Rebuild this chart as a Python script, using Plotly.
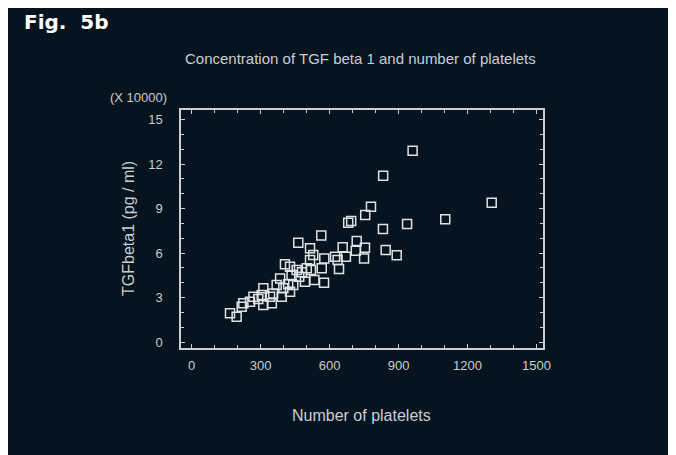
import plotly.graph_objects as go

# Platelet count vs TGF beta 1 concentration (x 10000 pg/ml)
platelets = [833, 780, 755, 694, 681, 937, 1103, 832, 564, 464,
             718, 844, 892, 754, 714, 750, 657, 671, 635, 641,
             576, 577, 515, 529, 515, 566, 501, 519, 534, 406,
             428, 457, 435, 468, 493, 385, 370, 399, 442, 355,
             312, 305, 392, 312, 269, 254, 225, 218, 167, 196,
             349, 961, 1305, 624, 341, 428, 480, 420, 290]
tgf_beta1 = [11.21, 9.12, 8.56, 8.16, 8.04, 7.96, 8.27, 7.62, 7.19, 6.70,
             6.81, 6.20, 5.85, 6.36, 6.16, 5.64, 6.39, 5.75, 5.53, 4.92,
             4.00, 5.64, 6.32, 5.87, 5.53, 4.97, 4.97, 4.86, 4.18, 5.24,
             5.08, 4.86, 4.52, 4.40, 4.07, 4.29, 3.84, 3.62, 3.84, 3.28,
             3.62, 3.17, 3.05, 2.49, 3.05, 2.72, 2.61, 2.38, 1.94, 1.71,
             2.61, 12.90, 9.39, 5.75, 3.05, 3.39, 4.70, 3.90, 2.90]

x_ticks = [0, 300, 600, 900, 1200, 1500]
y_ticks = [0, 3, 6, 9, 12, 15]

BG = '#05141f'
FG = '#c9ced3'
FONT = 'Liberation Sans, Arial, sans-serif'

# the page adds an 8px white margin, so the figure starts at (8, 8)
OFF = 8
W, H = 676, 455
L, R, T, B = 181 - OFF, 676 - 543 + OFF, 110 - OFF, 455 - 348 + OFF
PW, PH = W - L - R, H - T - B


def px_to_paper(px, py):
    # px, py measured on the screenshot
    return (px - OFF - L) / PW, (H - B - (py - OFF)) / PH


fig = go.Figure()

fig.add_trace(go.Scatter(
    x=platelets,
    y=tgf_beta1,
    mode='markers',
    marker=dict(symbol='square-open', size=9, color='#dfe2e4',
                line=dict(width=1.5, color='#dfe2e4')),
    showlegend=False
))

axis_common = dict(
    showline=True, linecolor=FG, linewidth=1.5, mirror='ticks',
    ticks='inside', ticklen=4, tickwidth=1, tickcolor=FG,
    showgrid=False, zeroline=False,
    tickfont=dict(family=FONT, size=13, color=FG),
)

fig.update_xaxes(
    range=[-46, 1528], tickvals=x_ticks, ticklabelstandoff=5,
    minor=dict(dtick=100, tick0=0, ticks='inside', ticklen=3, tickcolor=FG, showgrid=False),
    **axis_common
)
fig.update_yaxes(
    range=[-0.4, 15.64], tickvals=y_ticks, ticklabelstandoff=14,
    minor=dict(dtick=1, tick0=0, ticks='inside', ticklen=3, tickcolor=FG, showgrid=False),
    **axis_common
)

texts = [
    ('Fig.&nbsp; 5b', 22, 22, 'left', 0, dict(family='DejaVu Sans, Verdana, sans-serif', size=20, color='white'), True),
    ('Concentration of TGF beta 1 and number of platelets', 360, 58, 'center', 0,
     dict(family=FONT, size=15, color=FG), False),
    ('(X 10000)', 138, 97, 'center', 0, dict(family=FONT, size=13, color=FG), False),
    ('TGFbeta1 (pg / ml)', 128, 229, 'center', -90, dict(family=FONT, size=16, color=FG), False),
    ('Number of platelets', 361, 415, 'center', 0, dict(family=FONT, size=16, color=FG), False),
]
for txt, tx, ty, anchor, angle, font, bold in texts:
    ax, ay = px_to_paper(tx, ty)
    fig.add_annotation(
        text=f'<b>{txt}</b>' if bold else txt,
        x=ax, y=ay, xref='paper', yref='paper',
        xanchor=anchor, yanchor='middle', textangle=angle,
        showarrow=False, font=font
    )

fig.update_layout(
    width=W, height=H,
    margin=dict(l=L, r=R, t=T, b=B),
    paper_bgcolor=BG,
    plot_bgcolor=BG,
)

fig.write_html("out.html")
